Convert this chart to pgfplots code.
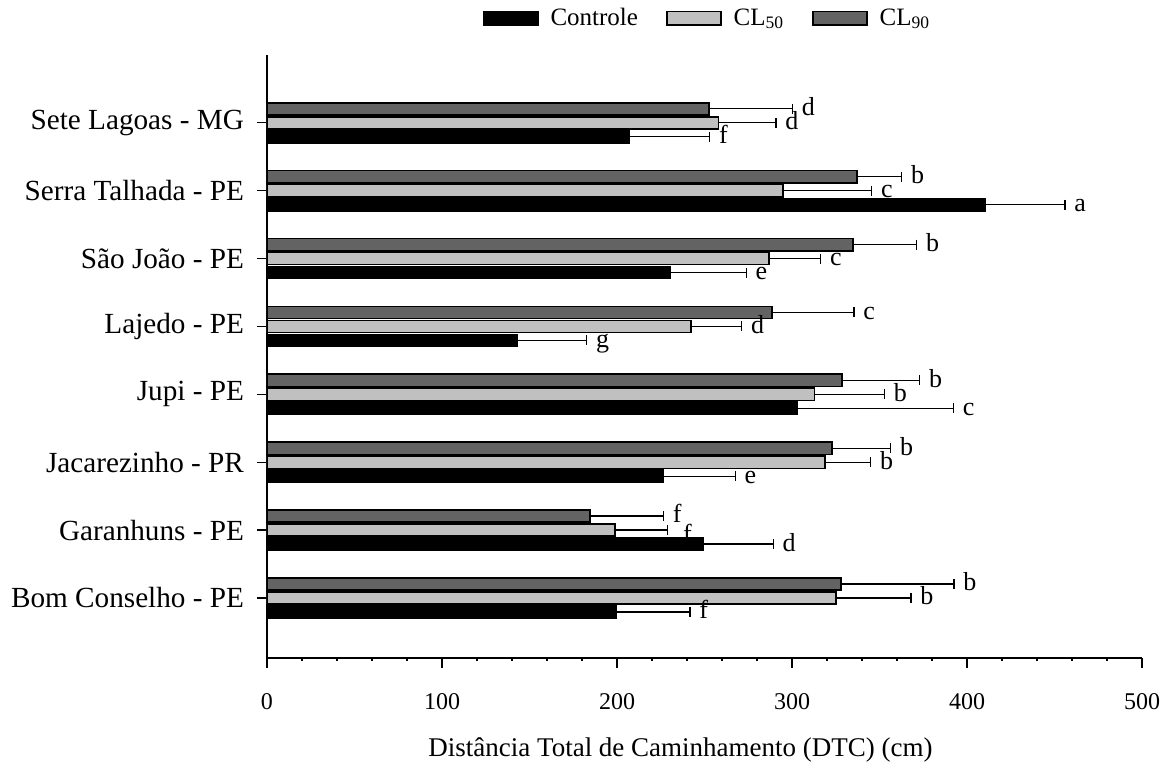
\documentclass[border=0pt]{standalone}
\usepackage{fontspec}
\setmainfont{Liberation Serif}
\usepackage{pgfplots}
\pgfplotsset{compat=1.18}

\definecolor{cl50}{RGB}{192,192,192}
\definecolor{cl90}{RGB}{99,99,99}

\begin{document}
\begin{tikzpicture}
\begin{axis}[
    scale only axis,
    width=437.5pt, height=301.5pt,
    xbar,
    xmin=0, xmax=500,
    ymin=-0.885, ymax=8,
    axis lines=left,
    axis line style={-, line width=0.8pt},
    xtick={0,100,...,500},
    minor x tick num=4,
    ytick={0,1,2,3,4,5,6,7},
    yticklabels={Bom Conselho - PE, Garanhuns - PE, Jacarezinho - PR, Jupi - PE,
                 Lajedo - PE, São João - PE, Serra Talhada - PE, Sete Lagoas - MG},
    tick align=outside,
    major tick length=5pt,
    minor tick length=1.5pt,
    tick style={black, line width=0.6pt},
    /pgf/number format/assume math mode=true,
    xticklabel style={font=\fontsize{12}{14}\selectfont, yshift=-9pt},
    yticklabel style={font=\fontsize{14.6}{17}\selectfont, xshift=-3pt},
    xlabel={Distância Total de Caminhamento (DTC) (cm)},
    xlabel style={font=\fontsize{13.5}{16}\selectfont, at={(axis description cs:0.5,0)}, anchor=center, yshift=-46pt, xshift=-12pt},
    bar width=0.18,
    error bars/x dir=plus,
    error bars/x explicit,
    error bars/error bar style={black, line width=0.6pt},
    error bars/error mark options={black, line width=0.6pt, mark size=2.5pt, rotate=90},
    legend columns=3,
    legend style={draw=none, at={(0.5,1)}, anchor=south, yshift=9pt, xshift=2pt,
                  font=\fontsize{12.5}{14}\selectfont,
                  /tikz/every even column/.append style={column sep=12pt}},
    legend image code/.code={\draw[#1] (0pt,-3.2pt) rectangle (27pt,3.4pt); \path (31pt,0pt);},
]
\addplot[fill=black, draw=black, line width=0.8pt, bar shift=-0.206] coordinates {
    (199.8,0) +- (41.9,0)
    (249.0,1) +- (40.3,0)
    (226.5,2) +- (41.1,0)
    (303.2,3) +- (89.0,0)
    (143.0,4) +- (39.7,0)
    (230.5,5) +- (43.4,0)
    (410.3,6) +- (45.7,0)
    (206.7,7) +- (46.3,0)
};
\addlegendentry{Controle}
\addplot[fill=cl50, draw=black, line width=0.8pt, bar shift=0] coordinates {
    (325.0,0) +- (43.0,0)
    (199.0,1) +- (30.0,0)
    (318.9,2) +- (26.1,0)
    (312.8,3) +- (40.0,0)
    (242.3,4) +- (28.9,0)
    (287.0,5) +- (29.4,0)
    (295.0,6) +- (50.5,0)
    (258.1,7) +- (32.8,0)
};
\addlegendentry{CL\textsubscript{50}}
\addplot[fill=cl90, draw=black, line width=0.8pt, bar shift=0.206] coordinates {
    (328.0,0) +- (64.6,0)
    (184.6,1) +- (41.9,0)
    (322.7,2) +- (33.7,0)
    (328.4,3) +- (44.6,0)
    (288.4,4) +- (47.0,0)
    (335.0,5) +- (36.2,0)
    (337.0,6) +- (25.7,0)
    (252.4,7) +- (47.8,0)
};
\addlegendentry{CL\textsubscript{90}}

\tikzset{lt/.style={anchor=base west, inner sep=0pt, xshift=4.5pt, yshift=-3.5pt, font=\fontsize{13}{15}\selectfont}}
% Sete Lagoas
\node[lt] at (axis cs:253.0,6.794) {f};
\node[lt] at (axis cs:290.9,7) {d};
\node[lt] at (axis cs:300.2,7.206) {d};
% Serra Talhada
\node[lt] at (axis cs:456.0,5.794) {a};
\node[lt] at (axis cs:345.5,6) {c};
\node[lt] at (axis cs:362.7,6.206) {b};
% Sao Joao
\node[lt] at (axis cs:273.9,4.794) {e};
\node[lt] at (axis cs:316.4,5) {c};
\node[lt] at (axis cs:371.2,5.206) {b};
% Lajedo
\node[lt] at (axis cs:182.7,3.794) {g};
\node[lt] at (axis cs:271.2,4) {d};
\node[lt] at (axis cs:335.4,4.206) {c};
% Jupi
\node[lt] at (axis cs:392.2,2.794) {c};
\node[lt] at (axis cs:352.8,3) {b};
\node[lt] at (axis cs:373.0,3.206) {b};
% Jacarezinho
\node[lt] at (axis cs:267.6,1.794) {e};
\node[lt] at (axis cs:345.0,2) {b};
\node[lt] at (axis cs:356.4,2.206) {b};
% Garanhuns
\node[lt] at (axis cs:289.3,0.794) {d};
\node[lt, xshift=3pt, yshift=-2.5pt] at (axis cs:229.0,1) {f};
\node[lt, yshift=0.5pt] at (axis cs:226.5,1.206) {f};
% Bom Conselho
\node[lt] at (axis cs:241.7,-0.206) {f};
\node[lt] at (axis cs:368.0,0) {b};
\node[lt] at (axis cs:392.6,0.206) {b};
\end{axis}
\path (-133.5pt,-55.5pt) rectangle (451.5pt,329pt);
\end{tikzpicture}
\end{document}
